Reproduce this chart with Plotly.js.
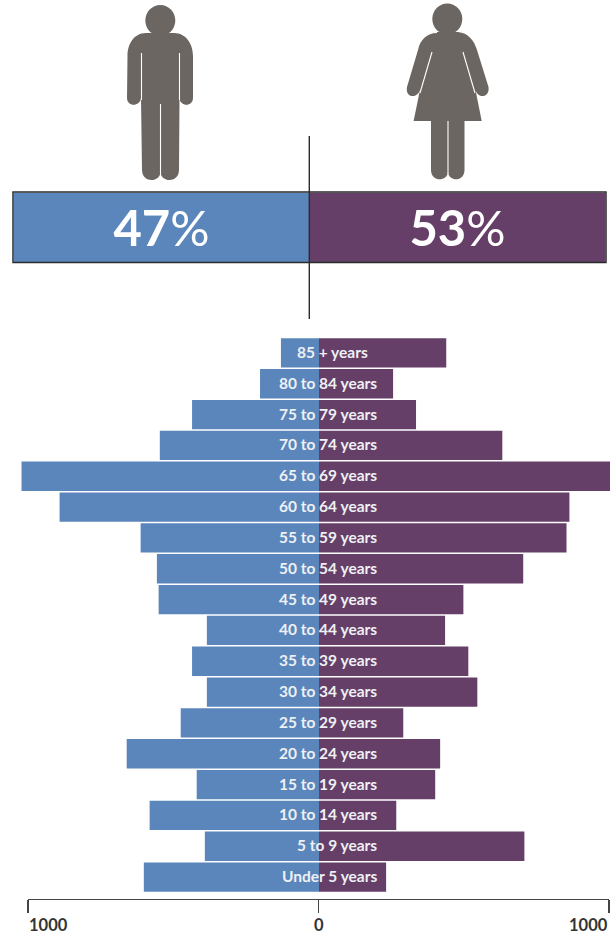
<!DOCTYPE html>
<html><head><meta charset="utf-8">
<script src="https://cdn.plot.ly/plotly-3.0.1.min.js"></script>
<style>html,body{margin:0;padding:0;background:#fff}#c{width:610px;height:937px}</style></head>
<body><div id="c"></div>
<script>
const ageGroups=["85 + years","80 to 84 years","75 to 79 years","70 to 74 years","65 to 69 years","60 to 64 years","55 to 59 years","50 to 54 years","45 to 49 years","40 to 44 years","35 to 39 years","30 to 34 years","25 to 29 years","20 to 24 years","15 to 19 years","10 to 14 years","5 to 9 years","Under 5 years"];
const maleCounts=[131,203,437,548,1024,893,614,558,552,386,437,386,476,662,421,583,393,603];
const femaleCounts=[438,255,334,631,1010,862,852,703,497,434,514,545,290,417,400,266,707,231];
const sharePct=[47,53];
const axisVals=[-1000,0,1000];
const axisText=["1000","0","1000"];
const BLUE="#5b86bb",PURPLE="#653f67",GREY="#6b6661",DARK="#2b2b2d";
const W=610,H=937;
const fx=p=>p/W, fy=p=>1-p/H;
const ZERO_PX=319, PX_PER_UNIT=0.2905;
function toPaper(d){let i=0;return d.replace(/-?\d+(\.\d+)?/g,m=>{const v=+m;const r=(i++%2===0)?fx(v):fy(v);return r.toFixed(5);});}
const pathShape=(d,fill)=>({type:'path',xref:'paper',yref:'paper',path:toPaper(d),fillcolor:fill,line:{width:0},layer:'above'});
const slit=(x0,y0,x1,y1,w)=>({type:'line',xref:'paper',yref:'paper',x0:fx(x0),y0:fy(y0),x1:fx(x1),y1:fy(y1),line:{color:'#fff',width:w||1.1},layer:'above'});
const head=(cx,cy,rx,ry)=>{const k=.552;return `M ${cx-rx} ${cy} C ${cx-rx} ${cy-k*ry} ${cx-k*rx} ${cy-ry} ${cx} ${cy-ry} C ${cx+k*rx} ${cy-ry} ${cx+rx} ${cy-k*ry} ${cx+rx} ${cy} C ${cx+rx} ${cy+k*ry} ${cx+k*rx} ${cy+ry} ${cx} ${cy+ry} C ${cx-k*rx} ${cy+ry} ${cx-rx} ${cy+k*ry} ${cx-rx} ${cy} Z`;};
const man="M 146 33 L 174 33 C 186 33 193 44 193 56 L 193 98 C 193 107 180 107 179.5 98 L 179 170 C 179 183 161 183 160.5 172 C 160 183 142 183 142 170 L 141 98 C 140 107 127 107 127 98 L 127.5 56 C 127.5 44 134 33 146 33 Z";
const woman="M 437 32 L 458 32 C 468 33 474 40 477 50 L 488.5 87 C 490 98 478 99 475.5 90 L 481.7 121 L 464.5 121 L 464.5 170 C 464.5 182 449 182 448 172 C 447 182 431 182 431 170 L 431 121 L 413.6 121 L 420 90 C 417 99 405 98 407 87 L 418 50 C 420 40 427 33 437 33 Z";
const shapes=[
 pathShape(head(160.3,20.5,15,15.5),GREY),pathShape(man,GREY),
 slit(141.5,53,141.5,100),slit(179.5,53,179.5,100),slit(160.5,104,160.5,174),
 pathShape(head(447.3,19,15,15.5),GREY),pathShape(woman,GREY),
 slit(432,52,420,93),slit(463,52,475,93),slit(448,121,448,174),
 {type:'rect',xref:'paper',yref:'paper',x0:fx(13),x1:fx(606),y0:fy(192),y1:fy(262.5),line:{color:DARK,width:1.5},fillcolor:'rgba(0,0,0,0)',layer:'above'},
 {type:'line',xref:'paper',yref:'paper',x0:fx(309.3),x1:fx(309.3),y0:fy(136),y1:fy(319),line:{color:DARK,width:1.4},layer:'above'}
];
const pctFont={family:'Lato',size:49,color:'#fff'};
const data=[
 {type:'bar',orientation:'h',y:ageGroups,x:maleCounts.map(v=>-v),marker:{color:BLUE},hoverinfo:'skip',xaxis:'x',yaxis:'y'},
 {type:'bar',orientation:'h',y:ageGroups,x:femaleCounts,marker:{color:PURPLE},hoverinfo:'skip',xaxis:'x',yaxis:'y'},
 {type:'bar',orientation:'h',y:['share'],x:[-sharePct[0]],width:[1],text:['<b>'+sharePct[0]+'</b>%'],textposition:'inside',insidetextanchor:'middle',insidetextfont:pctFont,marker:{color:BLUE},hoverinfo:'skip',xaxis:'x2',yaxis:'y2'},
 {type:'bar',orientation:'h',y:['share'],x:[sharePct[1]],width:[1],text:['<b>'+sharePct[1]+'</b>%'],textposition:'inside',insidetextanchor:'middle',insidetextfont:pctFont,marker:{color:PURPLE},hoverinfo:'skip',xaxis:'x3',yaxis:'y3'},
 {type:'scatter',mode:'markers',x:axisVals,y:axisVals.map(()=>ageGroups[0]),marker:{opacity:0,size:1},hoverinfo:'skip',xaxis:'x4',yaxis:'y'}
];
const annotations=ageGroups.map((g,i)=>({xref:'x',yref:'y',x:(i===0?176:205),y:g,text:'<b>'+g+'</b>',showarrow:false,xanchor:'right',yanchor:'middle',yshift:1,font:{family:'Lato',size:15.5,color:'#eef0f4'}}));
axisVals.forEach((v,i)=>annotations.push({xref:'x',yref:'paper',x:v,y:fy(925),text:'<b>'+axisText[i]+'</b>',showarrow:false,xanchor:i===0?'left':(i===2?'right':'center'),yanchor:'middle',xshift:i===0?-2:0,font:{family:'Lato',size:16.5,color:'#333'}}));
const layout={
 width:W,height:H,margin:{l:0,r:0,t:0,b:0},paper_bgcolor:'#fff',plot_bgcolor:'rgba(0,0,0,0)',showlegend:false,barmode:'overlay',bargap:.05,
 xaxis:{domain:[0,1],range:[(0-ZERO_PX)/PX_PER_UNIT,(W-ZERO_PX)/PX_PER_UNIT],visible:false,fixedrange:true},
 yaxis:{domain:[fy(892.5),fy(337.5)],type:'category',categoryorder:'array',categoryarray:ageGroups,range:[17.5,-0.5],visible:false,fixedrange:true},
 xaxis2:{domain:[fx(13.5),fx(309.5)],range:[-sharePct[0],0],visible:false,anchor:'y2',fixedrange:true},
 yaxis2:{domain:[fy(262),fy(192.5)],visible:false,anchor:'x2',fixedrange:true,type:'category'},
 xaxis3:{domain:[fx(309.5),fx(605.5)],range:[0,sharePct[1]],visible:false,anchor:'y3',fixedrange:true},
 yaxis3:{domain:[fy(262),fy(192.5)],visible:false,anchor:'x3',fixedrange:true,type:'category'},
 xaxis4:{domain:[fx(28),fx(609)],range:[-1000,1000],tickmode:'array',tickvals:axisVals,showticklabels:false,ticks:'outside',ticklen:13,tickwidth:1.4,tickcolor:'#444',showline:true,linecolor:'#444',linewidth:1.4,showgrid:false,zeroline:false,anchor:'free',position:fy(899),fixedrange:true},
 shapes,annotations
};
Plotly.newPlot('c',data,layout,{displayModeBar:false,staticPlot:true});
</script></body></html>
